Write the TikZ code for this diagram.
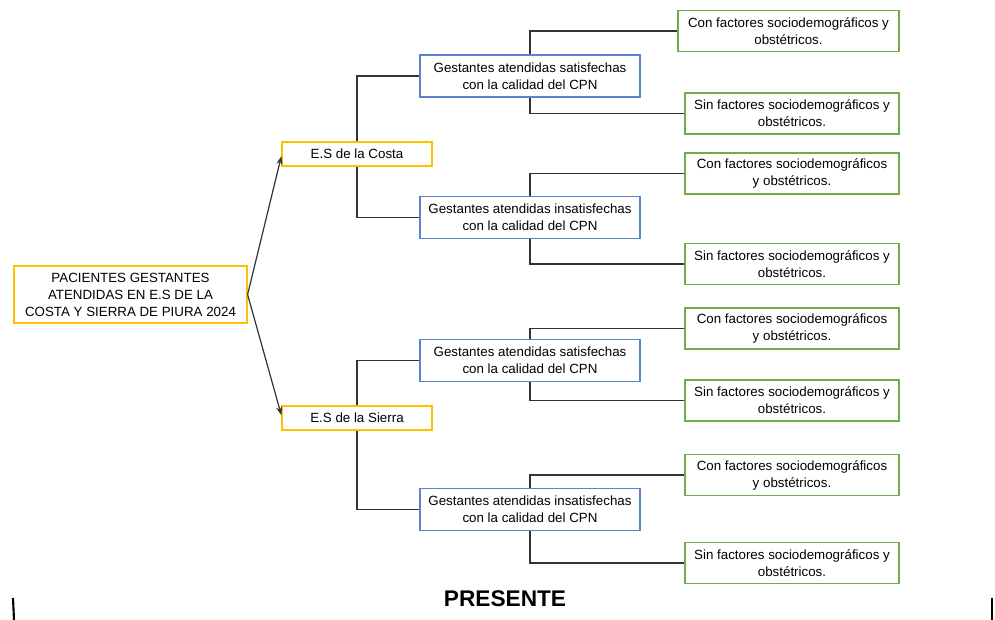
\documentclass[tikz,border=0pt]{standalone}
\usepackage{fontspec}
\setmainfont{Liberation Sans}
\usetikzlibrary{arrows.meta}
\definecolor{cajaoro}{HTML}{FFC000}
\definecolor{cajaazul}{HTML}{5B84CF}
\definecolor{cajaverde}{HTML}{70AD47}
\definecolor{linea}{HTML}{333333}

\begin{document}
\begin{tikzpicture}[x=0.75pt, y=-0.75pt,
  caja/.style={draw, line width=0.9pt, fill=white, align=center, inner sep=0pt,
    font=\fontsize{10}{12.75}\selectfont},
  raiz/.style={caja, draw=cajaoro, minimum width=174.75pt, minimum height=42.75pt},
  sede/.style={caja, draw=cajaoro, minimum width=112.5pt, minimum height=18pt},
  grupo/.style={caja, draw=cajaazul, minimum width=165pt, minimum height=31.5pt},
  hoja/.style={caja, draw=cajaverde, minimum width=160.5pt, minimum height=30.75pt},
  rama/.style={draw=linea, line width=0.9pt},
  flecha/.style={draw=linea, line width=0.9pt, -{Stealth[length=6.5pt, width=4.5pt]}}]
  % Marco de la imagen
  \useasboundingbox (0,0) rectangle (995,620);
  % Nodo principal
  \node[raiz] (pacientes) at (130.5,294.5)
    {PACIENTES GESTANTES\\ATENDIDAS EN E.S DE LA\\COSTA Y SIERRA DE PIURA 2024};
  % Establecimientos de salud
  \node[sede] (costa) at (357,154) {E.S de la Costa};
  \node[sede] (sierra) at (357,418) {E.S de la Sierra};
  \draw[flecha] (pacientes.east) -- ([yshift=-1.5pt]costa.west);
  \draw[flecha] (pacientes.east) -- ([yshift=2pt]sierra.west);
  % Gestantes satisfechas e insatisfechas
  \node[grupo] (costaSat) at (530,76) {Gestantes atendidas satisfechas\\con la calidad del CPN};
  \node[grupo] (costaIns) at (530,217.5) {Gestantes atendidas insatisfechas\\con la calidad del CPN};
  \node[grupo] (sierraSat) at (530,360.5) {Gestantes atendidas satisfechas\\con la calidad del CPN};
  \node[grupo] (sierraIns) at (530,509.5) {Gestantes atendidas insatisfechas\\con la calidad del CPN};
  % Factores (hojas)
  \node[hoja, minimum width=165.75pt] (costaSatCon) at (788.5,31)
    {Con factores sociodemográficos y\\obstétricos.};
  \node[hoja] (costaSatSin) at (792,113.5) {Sin factores sociodemográficos y\\obstétricos.};
  \node[hoja] (costaInsCon) at (792,173.5) {Con factores sociodemográficos\\y obstétricos.};
  \node[hoja] (costaInsSin) at (792,264) {Sin factores sociodemográficos y\\obstétricos.};
  \node[hoja] (sierraSatCon) at (792,328.5) {Con factores sociodemográficos\\y obstétricos.};
  \node[hoja] (sierraSatSin) at (792,400.5) {Sin factores sociodemográficos y\\obstétricos.};
  \node[hoja] (sierraInsCon) at (792,475) {Con factores sociodemográficos\\y obstétricos.};
  \node[hoja] (sierraInsSin) at (792,563) {Sin factores sociodemográficos y\\obstétricos.};
  % Ramas en codo
  \foreach \padre/\hijo in {costa/costaSat, sierra/sierraSat, costaSat/costaSatCon,
                            costaIns/costaInsCon, sierraSat/sierraSatCon, sierraIns/sierraInsCon}{
    \draw[rama] (\padre.north) |- (\hijo.west);
  }
  \foreach \padre/\hijo in {costa/costaIns, sierra/sierraIns, costaSat/costaSatSin,
                            costaIns/costaInsSin, sierraSat/sierraSatSin, sierraIns/sierraInsSin}{
    \draw[rama] (\padre.south) |- (\hijo.west);
  }
  % Titulo inferior
  \node[font=\fontsize{17}{20}\selectfont\bfseries] (presente) at (505,599) {PRESENTE};
  % Trazos del borde inferior
  \draw[line width=1.6pt] (13,598) -- (14,620);
  \draw[line width=1.6pt] (992,598) -- (992,620);
\end{tikzpicture}
\end{document}
